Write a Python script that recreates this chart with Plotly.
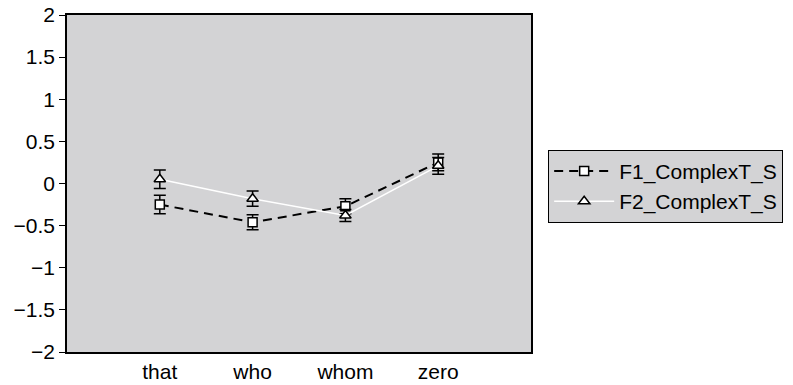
import plotly.graph_objects as go

categories = ["that", "who", "whom", "zero"]
f1_values = [-0.25, -0.46, -0.27, 0.25]
f1_errors = [0.11, 0.09, 0.09, 0.1]
f2_values = [0.05, -0.18, -0.38, 0.21]
f2_errors = [0.11, 0.09, 0.07, 0.1]
y_ticks = [-2, -1.5, -1, -0.5, 0, 0.5, 1, 1.5, 2]
y_tick_labels = ["\u22122", "\u22121.5", "\u22121", "\u22120.5", "0", "0.5", "1", "1.5", "2"]

x_idx = list(range(len(categories)))

fig = go.Figure()
fig.add_trace(go.Scatter(
    x=x_idx, y=f1_values, name="F1_ComplexT_S", mode="lines+markers",
    line=dict(color="black", width=2, dash="9px,6px"),
    marker=dict(symbol="square", size=9, color="white", line=dict(color="black", width=1.5)),
    error_y=dict(type="data", array=f1_errors, color="black", thickness=1.5, width=6),
))
fig.add_trace(go.Scatter(
    x=x_idx, y=f2_values, name="F2_ComplexT_S", mode="lines+markers",
    line=dict(color="white", width=1.5),
    marker=dict(symbol="triangle-up", size=10, color="white", line=dict(color="black", width=1.5)),
    error_y=dict(type="data", array=f2_errors, color="black", thickness=1.5, width=6),
))

fig.update_layout(
    width=793, height=385,
    margin=dict(l=67, r=262, t=15, b=33, autoexpand=False),
    paper_bgcolor="white", plot_bgcolor="#d3d3d5",
    font=dict(family="Liberation Sans, Arial, sans-serif", size=21, color="black"),
    showlegend=True,
    legend=dict(x=1.037, y=0.6, xanchor="left", yanchor="top",
                bgcolor="#d3d3d5", bordercolor="black", borderwidth=1,
                font=dict(size=21), tracegroupgap=0, itemwidth=60),
)
fig.update_xaxes(range=[-1, 4], tickvals=x_idx, ticktext=categories,
                 showgrid=False, zeroline=False, showline=True, linecolor="black",
                 linewidth=1.5, mirror=True, ticks="", tickfont=dict(size=21),
                 automargin=False)
fig.update_yaxes(range=[-2, 2], tickvals=y_ticks, ticktext=y_tick_labels,
                 showgrid=False, zeroline=False, showline=True, linecolor="black",
                 linewidth=1.5, mirror=True, ticks="outside", ticklen=6,
                 tickcolor="black", tickfont=dict(size=21), automargin=False)

fig.write_html("out.html", config={"displayModeBar": False},
               post_script="document.body.style.margin='0';")
